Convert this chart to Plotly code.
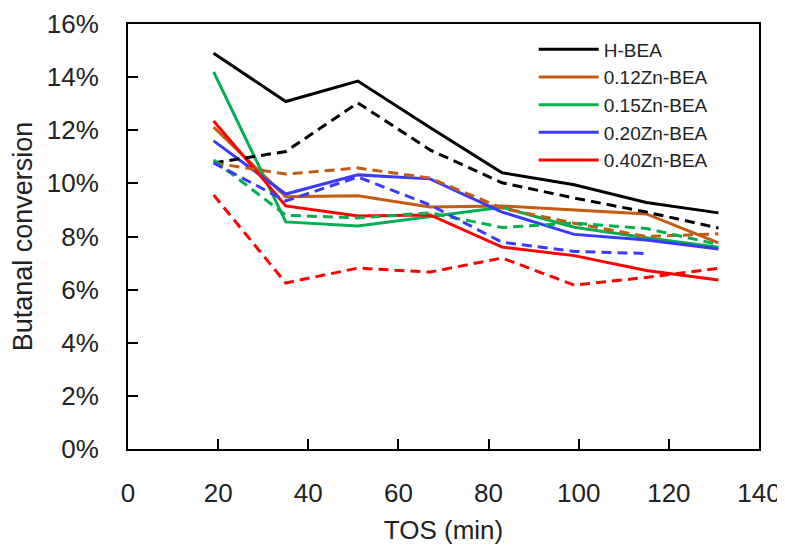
import plotly.graph_objects as go

tos = [19, 35, 51, 67, 83, 99, 115, 131]
series_names = ["H-BEA", "0.12Zn-BEA", "0.15Zn-BEA", "0.20Zn-BEA", "0.40Zn-BEA"]
colors = ["#000000", "#C55A11", "#00B050", "#3A3AFF", "#FF0000"]

# solid lines (conversion, %)
h_bea_solid = [14.9, 13.08, 13.85, 12.1, 10.4, 9.95, 9.28, 8.89]
zn012_solid = [12.12, 9.5, 9.53, 9.11, 9.15, 9.0, 8.85, 7.76]
zn015_solid = [14.2, 8.55, 8.4, 8.75, 9.1, 8.35, 7.95, 7.6]
zn020_solid = [11.6, 9.6, 10.32, 10.17, 8.92, 8.08, 7.87, 7.53]
zn040_solid = [12.35, 9.15, 8.77, 8.81, 7.6, 7.28, 6.72, 6.36]

# dashed lines (conversion, %)
h_bea_dash = [10.77, 11.2, 13.03, 11.26, 10.02, 9.45, 8.92, 8.32]
zn012_dash = [10.77, 10.35, 10.58, 10.2, 9.07, 8.5, 8.0, 8.1]
zn015_dash = [10.88, 8.8, 8.7, 8.89, 8.34, 8.51, 8.3, 7.7]
zn020_dash = [10.77, 9.34, 10.24, 9.19, 7.78, 7.44, 7.36]
zn040_dash = [9.56, 6.25, 6.81, 6.66, 7.19, 6.17, 6.46, 6.8]

solids = [h_bea_solid, zn012_solid, zn015_solid, zn020_solid, zn040_solid]
dashes = [h_bea_dash, zn012_dash, zn015_dash, zn020_dash, zn040_dash]

font_family = "Liberation Sans, Arial, sans-serif"
text_col = "#222222"

fig = go.Figure()
for name, col, ys in zip(series_names, colors, solids):
    fig.add_trace(go.Scatter(x=tos[:len(ys)], y=ys, mode="lines", name=name,
                             line=dict(color=col, width=3)))
for name, col, ys in zip(series_names, colors, dashes):
    fig.add_trace(go.Scatter(x=tos[:len(ys)], y=ys, mode="lines", name=name + " (dashed)",
                             showlegend=False,
                             line=dict(color=col, width=3, dash="10px,6px")))

axis_common = dict(showline=True, linecolor="black", linewidth=2, mirror=True,
                   ticks="inside", ticklen=10, tickwidth=2, tickcolor="black",
                   showgrid=False, zeroline=False, automargin=False,
                   tickfont=dict(size=26, color=text_col, family=font_family))

fig.update_xaxes(range=[0, 140], dtick=20, tick0=0,
                 title=dict(text="TOS (min)", font=dict(size=26, color=text_col, family=font_family),
                            standoff=14),
                 ticklabelstandoff=20, **axis_common)
fig.update_yaxes(range=[0, 16], dtick=2, tick0=0, ticksuffix="%",
                 title=dict(text="Butanal conversion", font=dict(size=27, color=text_col, family=font_family),
                            standoff=10),
                 ticklabelstandoff=22, **axis_common)

# page body has an 8px margin, so the figure is sized to fit the 785x551 window
fig.update_layout(
    width=777, height=543,
    margin=dict(l=120, r=26, t=16, b=102),
    paper_bgcolor="white", plot_bgcolor="white",
    font=dict(family=font_family, color=text_col),
    legend=dict(x=0.643, y=0.985, xanchor="left", yanchor="top",
                bgcolor="rgba(0,0,0,0)", font=dict(size=19, color=text_col, family=font_family),
                tracegroupgap=0, itemwidth=60),
    showlegend=True,
)

fig.write_html("out.html")
